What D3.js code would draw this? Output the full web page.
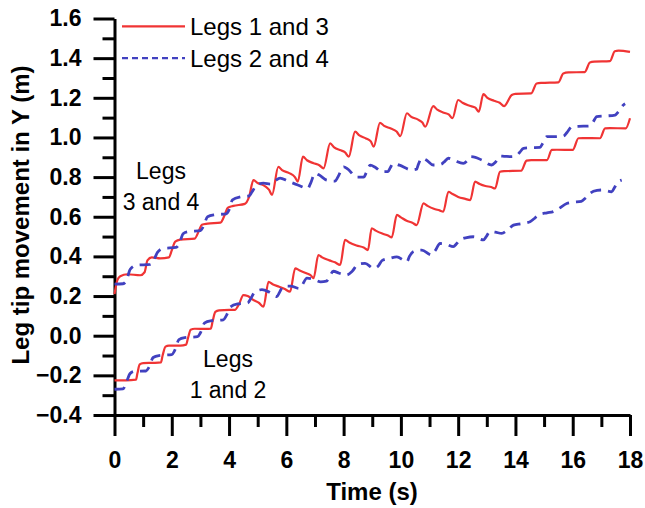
<!DOCTYPE html>
<html>
<head>
<meta charset="utf-8">
<script src="https://cdn.jsdelivr.net/npm/d3@7"></script>
<style>
  html, body { margin: 0; padding: 0; background: #fff; }
  svg { display: block; font-family: Arial, "Liberation Sans", Helvetica, sans-serif; }
</style>
</head>
<body>
<svg id="chart" width="645" height="508"></svg>
<script>
// Leg tip movement in Y (m) against time (s), [t, y] pairs per leg
const leg3 = [
  [0, 0.21], [0.1, 0.28], [0.2, 0.30], [0.45, 0.31], [0.9, 0.305], [1.05, 0.32], [1.15, 0.38], [1.3, 0.395],
  [1.6, 0.39], [1.9, 0.395], [2.0, 0.43], [2.12, 0.475], [2.3, 0.485], [2.8, 0.49], [2.95, 0.53], [3.05, 0.56],
  [3.25, 0.565], [3.7, 0.57], [3.85, 0.61], [3.95, 0.645], [4.15, 0.655], [4.55, 0.665], [4.7, 0.70], [4.85, 0.785],
  [5.0, 0.77], [5.25, 0.755], [5.4, 0.735], [5.5, 0.71], [5.72, 0.852],
  [5.85, 0.835], [6.1, 0.82], [6.3, 0.80], [6.4, 0.777], [6.58, 0.903],
  [6.72, 0.885], [6.95, 0.87], [7.15, 0.86], [7.3, 0.844], [7.53, 0.97],
  [7.67, 0.95], [7.9, 0.935], [8.05, 0.925], [8.18, 0.903], [8.40, 1.029],
  [8.55, 1.01], [8.78, 0.995], [8.95, 0.98], [9.05, 0.953], [9.27, 1.074],
  [9.4, 1.06], [9.65, 1.045], [9.85, 1.03], [9.98, 1.007], [10.21, 1.122],
  [10.35, 1.105], [10.6, 1.09], [10.75, 1.075], [10.85, 1.054], [11.13, 1.158],
  [11.27, 1.14], [11.5, 1.125], [11.68, 1.115], [11.8, 1.097], [12.0, 1.189],
  [12.15, 1.175], [12.4, 1.16], [12.6, 1.15], [12.72, 1.13], [12.88, 1.219],
  [13.02, 1.2], [13.25, 1.185], [13.45, 1.175], [13.6, 1.158], [13.87, 1.214],
  [14.0, 1.22], [14.55, 1.222], [14.74, 1.272], [14.9, 1.275], [15.5, 1.278], [15.67, 1.323], [15.85, 1.328],
  [16.42, 1.33], [16.6, 1.378], [16.75, 1.382], [17.3, 1.385], [17.47, 1.435], [17.6, 1.438], [18.0, 1.432]
];

const leg4 = [
  [0, 0.26], [0.3, 0.262], [0.42, 0.28], [0.55, 0.335], [0.75, 0.355], [1.25, 0.36], [1.35, 0.375], [1.5, 0.42],
  [1.7, 0.44], [2.15, 0.445], [2.25, 0.46], [2.4, 0.515], [2.6, 0.525], [3.0, 0.53], [3.1, 0.55], [3.25, 0.60],
  [3.5, 0.61], [3.9, 0.615], [4.0, 0.635], [4.12, 0.685], [4.4, 0.70], [4.7, 0.705], [4.8, 0.725], [4.97, 0.76],
  [5.2, 0.77], [5.45, 0.765], [5.6, 0.78], [5.78, 0.795], [6.05, 0.78], [6.4, 0.76], [6.75, 0.743], [6.85, 0.77],
  [7.0, 0.819], [7.15, 0.81], [7.41, 0.785], [7.7, 0.78], [7.8, 0.80], [8.0, 0.852], [8.15, 0.84], [8.46, 0.80],
  [8.7, 0.80], [8.8, 0.825], [8.93, 0.86], [9.1, 0.85], [9.33, 0.827], [9.55, 0.828], [9.62, 0.845], [9.74, 0.869],
  [9.95, 0.86], [10.38, 0.836], [10.55, 0.84], [10.6, 0.86], [10.73, 0.895], [10.9, 0.885], [11.13, 0.861],
  [11.4, 0.865], [11.5, 0.875], [11.66, 0.895], [11.85, 0.885], [12.18, 0.869], [12.3, 0.88], [12.42, 0.903],
  [12.6, 0.9], [12.82, 0.886], [13.17, 0.861], [13.3, 0.875], [13.46, 0.906], [13.6, 0.905], [13.87, 0.903],
  [14.05, 0.91], [14.15, 0.925], [14.28, 0.945], [14.5, 0.948], [14.86, 0.95], [14.95, 0.97], [15.09, 1.004],
  [15.3, 1.004], [15.67, 1.006], [15.8, 1.025], [15.97, 1.054], [16.2, 1.056], [16.6, 1.058], [16.7, 1.075],
  [16.84, 1.105], [17.1, 1.108], [17.48, 1.113], [17.6, 1.13], [17.77, 1.164], [17.83, 1.17]
];

const leg1 = [
  [0, -0.225], [0.4, -0.225], [0.75, -0.222], [0.8, -0.19], [0.88, -0.145], [1.0, -0.138], [1.4, -0.137],
  [1.62, -0.135], [1.68, -0.1], [1.78, -0.055], [1.9, -0.05], [2.3, -0.05], [2.5, -0.045], [2.57, -0.01],
  [2.66, 0.03], [2.8, 0.035], [3.2, 0.034], [3.36, 0.035], [3.43, 0.075], [3.52, 0.12], [3.65, 0.128],
  [4.0, 0.13], [4.2, 0.13], [4.35, 0.16], [4.5, 0.205], [4.65, 0.2], [4.85, 0.18], [5.05, 0.165], [5.2, 0.146],
  [5.38, 0.272], [5.52, 0.26], [5.75, 0.247], [5.95, 0.235], [6.13, 0.222], [6.31, 0.34], [6.45, 0.33],
  [6.7, 0.315], [6.85, 0.305], [6.95, 0.29], [7.12, 0.407], [7.25, 0.395], [7.5, 0.38], [7.7, 0.37],
  [7.88, 0.357], [8.05, 0.483], [8.2, 0.47], [8.45, 0.455], [8.7, 0.445], [8.85, 0.432], [8.98, 0.542],
  [9.12, 0.53], [9.35, 0.515], [9.55, 0.505], [9.68, 0.496], [9.86, 0.609], [10.0, 0.597], [10.2, 0.58],
  [10.4, 0.57], [10.55, 0.558], [10.79, 0.667], [10.93, 0.655], [11.15, 0.64], [11.35, 0.632], [11.48, 0.626],
  [11.66, 0.726], [11.8, 0.715], [12.0, 0.7], [12.25, 0.69], [12.42, 0.684], [12.59, 0.777], [12.75, 0.765],
  [12.95, 0.755], [13.15, 0.75], [13.29, 0.743], [13.46, 0.827], [13.6, 0.83], [14.2, 0.832], [14.39, 0.883],
  [14.55, 0.886], [15.1, 0.886], [15.27, 0.937], [15.45, 0.938], [16.0, 0.937], [16.2, 0.996], [16.35, 0.997],
  [16.95, 0.996], [17.13, 1.046], [17.3, 1.047], [17.85, 1.046], [18.0, 1.097]
];

const leg2 = [
  [0, -0.27], [0.3, -0.268], [0.4, -0.24], [0.55, -0.19], [0.7, -0.18], [1.1, -0.178], [1.2, -0.16],
  [1.35, -0.11], [1.55, -0.1], [2.0, -0.095], [2.1, -0.075], [2.25, -0.02], [2.45, -0.01], [2.9, -0.005],
  [3.0, 0.015], [3.15, 0.065], [3.35, 0.075], [3.8, 0.08], [3.9, 0.1], [4.05, 0.145], [4.3, 0.16], [4.65, 0.165],
  [4.75, 0.185], [4.9, 0.22], [5.15, 0.232], [5.4, 0.22], [5.67, 0.197], [5.75, 0.215], [5.9, 0.25],
  [6.15, 0.25], [6.45, 0.238], [6.55, 0.255], [6.72, 0.29], [6.95, 0.285], [7.2, 0.272], [7.4, 0.275],
  [7.5, 0.295], [7.64, 0.325], [7.85, 0.315], [8.1, 0.306], [8.3, 0.325], [8.5, 0.36], [8.75, 0.365],
  [9.05, 0.34], [9.2, 0.35], [9.35, 0.38], [9.6, 0.39], [9.86, 0.398], [10.1, 0.38], [10.21, 0.373],
  [10.3, 0.4], [10.45, 0.425], [10.73, 0.432], [11.08, 0.407], [11.2, 0.43], [11.37, 0.465], [11.6, 0.46],
  [11.83, 0.449], [11.95, 0.465], [12.07, 0.483], [12.3, 0.495], [12.53, 0.499], [12.88, 0.483], [12.98, 0.5],
  [13.11, 0.525], [13.3, 0.522], [13.52, 0.516], [13.7, 0.53], [13.93, 0.558], [14.2, 0.565], [14.51, 0.575],
  [14.65, 0.59], [14.8, 0.609], [15.1, 0.62], [15.32, 0.626], [15.5, 0.64], [15.79, 0.667], [16.0, 0.673],
  [16.3, 0.678], [16.45, 0.695], [16.6, 0.718], [16.85, 0.733], [17.01, 0.735], [17.36, 0.726], [17.45, 0.745],
  [17.54, 0.768], [17.71, 0.785]
];

// Axis ticks
const xMajorTicks = [0, 2, 4, 6, 8, 10, 12, 14, 16, 18];
const xMinorTicks = [1, 3, 5, 7, 9, 11, 13, 15, 17];
const yMajorTicks = [-0.4, -0.2, 0.0, 0.2, 0.4, 0.6, 0.8, 1.0, 1.2, 1.4, 1.6];
const yMinorTicks = [-0.3, -0.1, 0.1, 0.3, 0.5, 0.7, 0.9, 1.1, 1.3, 1.5];

// Legend and annotation text
const legendLabels = ["Legs 1 and 3", "Legs 2 and 4"];
const upperNote = ["Legs", "3 and 4"];
const lowerNote = ["Legs", "1 and 2"];
const xTitle = "Time (s)";
const yTitle = "Leg tip movement in Y (m)";

const RED = "#f03434";
const BLUE = "#4141c0";

const svg = d3.select("#chart");
const x = d3.scaleLinear().domain([0, 18]).range([114.5, 630]);
const y = d3.scaleLinear().domain([-0.4, 1.6]).range([415, 18.5]);

const line = d3.line()
  .x(d => x(d[0]))
  .y(d => y(d[1]))
  .curve(d3.curveMonotoneX);

// Minor ticks (no labels)
svg.append("g")
  .attr("transform", `translate(0,${y(-0.4)})`)
  .call(d3.axisBottom(x).tickValues(xMinorTicks).tickSize(12).tickFormat(""))
  .call(g => g.select(".domain").remove());
svg.append("g")
  .attr("transform", `translate(${x(0)},0)`)
  .call(d3.axisLeft(y).tickValues(yMinorTicks).tickSize(12).tickFormat(""))
  .call(g => g.select(".domain").remove());

// Major ticks with labels
svg.append("g")
  .attr("transform", `translate(0,${y(-0.4)})`)
  .call(d3.axisBottom(x).tickValues(xMajorTicks).tickSize(21).tickSizeOuter(0).tickPadding(16).tickFormat(d3.format("d")));
svg.append("g")
  .attr("transform", `translate(${x(0)},0)`)
  .call(d3.axisLeft(y).tickValues(yMajorTicks).tickSize(21).tickSizeOuter(0).tickPadding(12).tickFormat(d3.format(".1f")));

svg.selectAll(".tick line").attr("stroke", "#000").attr("stroke-width", 3);
svg.selectAll(".domain").attr("stroke", "#000").attr("stroke-width", 3);
svg.selectAll(".tick text")
  .attr("fill", "#000")
  .style("font-size", "23px")
  .style("font-weight", "bold")
  .style("font-family", "Arial, 'Liberation Sans', sans-serif");

// Series
const series = [
  { data: leg3, color: RED, dash: null, width: 2.2 },
  { data: leg4, color: BLUE, dash: "11,7", width: 2.8 },
  { data: leg1, color: RED, dash: null, width: 2.2 },
  { data: leg2, color: BLUE, dash: "11,7", width: 2.8 }
];
series.forEach(s => {
  svg.append("path")
    .datum(s.data)
    .attr("d", line)
    .attr("fill", "none")
    .attr("stroke", s.color)
    .attr("stroke-width", s.width)
    .attr("stroke-dasharray", s.dash)
    .attr("stroke-linejoin", "round");
});

// Legend
const legend = [
  { label: legendLabels[0], color: RED, dash: null, width: 2.2, yv: 1.56 },
  { label: legendLabels[1], color: BLUE, dash: "6,4", width: 2.4, yv: 1.4 }
];
legend.forEach(l => {
  svg.append("line")
    .attr("x1", 122).attr("x2", 185)
    .attr("y1", y(l.yv)).attr("y2", y(l.yv))
    .attr("stroke", l.color)
    .attr("stroke-width", l.width)
    .attr("stroke-dasharray", l.dash);
  svg.append("text")
    .attr("x", 190).attr("y", y(l.yv))
    .attr("dy", "0.35em")
    .style("font-size", "24px")
    .text(l.label);
});

// Annotations
function note(lines, cx, y0) {
  lines.forEach((t, i) => {
    svg.append("text")
      .attr("x", cx).attr("y", y0 + i * 31)
      .attr("text-anchor", "middle")
      .style("font-size", "23px")
      .text(t);
  });
}
note(upperNote, 161, 179);
note(lowerNote, 228, 367);

// Axis titles
svg.append("text")
  .attr("x", 372).attr("y", 500)
  .attr("text-anchor", "middle")
  .style("font-size", "24px")
  .style("font-weight", "bold")
  .text(xTitle);
svg.append("text")
  .attr("transform", `translate(29,${(50 + 380) / 2}) rotate(-90)`)
  .attr("text-anchor", "middle")
  .style("font-size", "24px")
  .style("font-weight", "bold")
  .text(yTitle);
</script>
</body>
</html>
